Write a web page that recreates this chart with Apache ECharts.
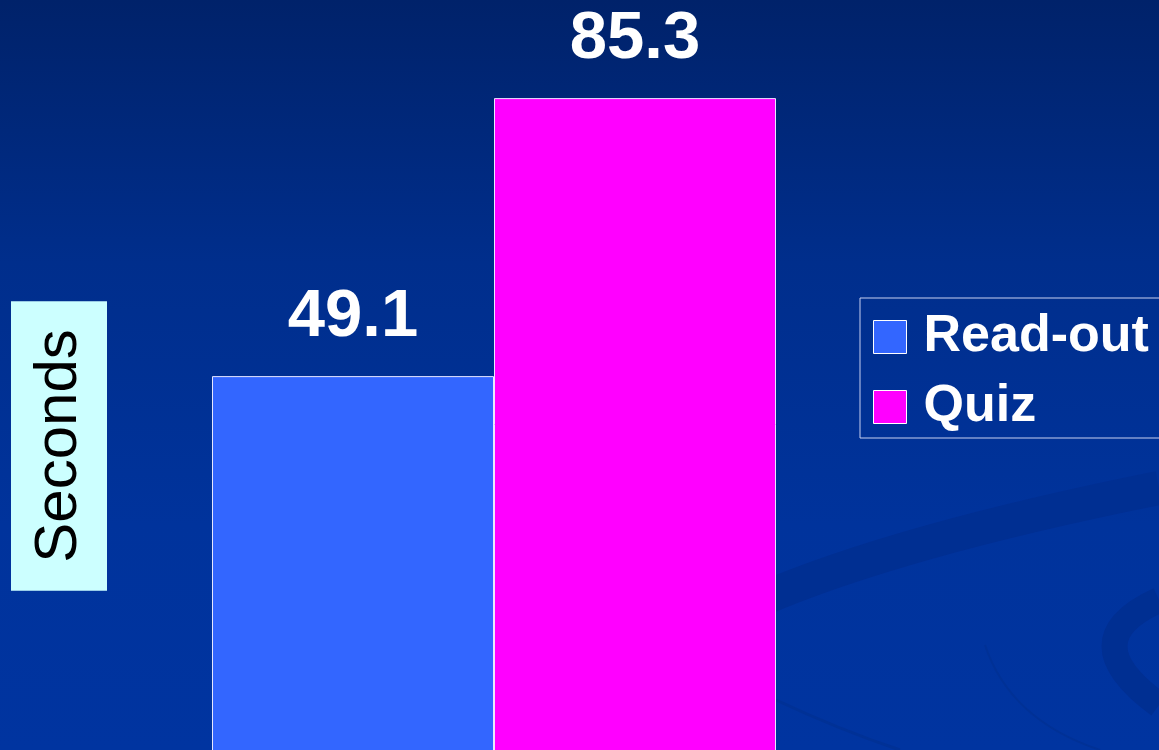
<!DOCTYPE html>
<html>
<head>
<meta charset="utf-8">
<script src="https://cdn.jsdelivr.net/npm/echarts@6/dist/echarts.min.js"></script>
<style>
  html, body { margin: 0; padding: 0; }
  #main { width: 1159px; height: 750px; }
</style>
</head>
<body>
<div id="main"></div>
<script>
// chart data
var categories = ['Time'];
var seriesNames = ['Read-out', 'Quiz'];
var readOut = [49.1];
var quiz = [85.3];
var barColors = ['#3366FF', '#FF00FF'];

var myChart = echarts.init(document.getElementById('main'));

function makeSeries(name, data, color) {
    return {
        name: name,
        type: 'bar',
        data: data,
        barWidth: 282,
        barGap: '0%',
        itemStyle: { color: color, borderColor: '#E8E8FF', borderWidth: 1 },
        label: {
            show: true,
            position: 'top',
            distance: 25,
            color: '#fff',
            fontFamily: 'Liberation Sans, Arial',
            fontWeight: 'bold',
            fontSize: 67
        }
    };
}

var option = {
    backgroundColor: {
        type: 'linear', x: 0, y: 0, x2: 0, y2: 1,
        colorStops: [
            { offset: 0, color: '#00226A' },
            { offset: 0.35, color: '#002E8C' },
            { offset: 0.7, color: '#00339C' },
            { offset: 1, color: '#0034A0' }
        ]
    },
    animation: false,
    // faint swirls of the slide background
    graphic: [
        {
            type: 'bezierCurve', z: -1, silent: true,
            shape: { x1: 760, y1: 600, cpx1: 900, cpy1: 540, x2: 1159, y2: 488 },
            style: { stroke: '#002F92', lineWidth: 34, fill: null }
        },
        {
            type: 'bezierCurve', z: -1, silent: true,
            shape: { x1: 1159, y1: 600, cpx1: 1070, cpy1: 640, x2: 1159, y2: 705 },
            style: { stroke: '#002F92', lineWidth: 26, fill: null }
        },
        {
            type: 'bezierCurve', z: -1, silent: true,
            shape: { x1: 985, y1: 645, cpx1: 1010, cpy1: 720, x2: 1100, y2: 750 },
            style: { stroke: '#003196', lineWidth: 2, fill: null }
        },
        {
            type: 'bezierCurve', z: -1, silent: true,
            shape: { x1: 776, y1: 700, cpx1: 840, cpy1: 730, x2: 900, y2: 750 },
            style: { stroke: '#003196', lineWidth: 3, fill: null }
        }
    ],
    legend: {
        data: seriesNames,
        orient: 'vertical',
        left: 860,
        top: 298,
        padding: [13, 12, 5, 13],
        itemGap: 18,
        itemWidth: 33,
        itemHeight: 33,
        icon: 'rect',
        borderColor: '#C8D0F0',
        borderWidth: 1,
        itemStyle: { borderColor: '#fff', borderWidth: 1 },
        textStyle: {
            color: '#fff',
            fontFamily: 'Liberation Sans, Arial',
            fontWeight: 'bold',
            fontSize: 52,
            padding: [0, 0, 0, 12]
        }
    },
    // zero sits just under the bottom edge; min below zero only to centre the axis name
    grid: { left: 112, right: 283, top: 62, bottom: -80, outerBoundsMode: 'none' },
    xAxis: {
        type: 'category',
        data: categories,
        axisLine: { show: false },
        axisTick: { show: false },
        axisLabel: { show: false }
    },
    yAxis: {
        type: 'value',
        min: -10,
        max: 90,
        splitLine: { show: false },
        axisLine: { show: false },
        axisTick: { show: false },
        axisLabel: { show: false },
        name: 'Seconds',
        nameLocation: 'middle',
        nameRotate: 90,
        nameGap: 5,
        nameTextStyle: {
            color: '#000',
            fontFamily: 'Liberation Sans, Arial',
            fontSize: 60,
            backgroundColor: '#CCFFFF',
            padding: [18, 28, 18, 28]
        }
    },
    series: [
        makeSeries(seriesNames[0], readOut, barColors[0]),
        makeSeries(seriesNames[1], quiz, barColors[1])
    ]
};

myChart.setOption(option);
</script>
</body>
</html>
